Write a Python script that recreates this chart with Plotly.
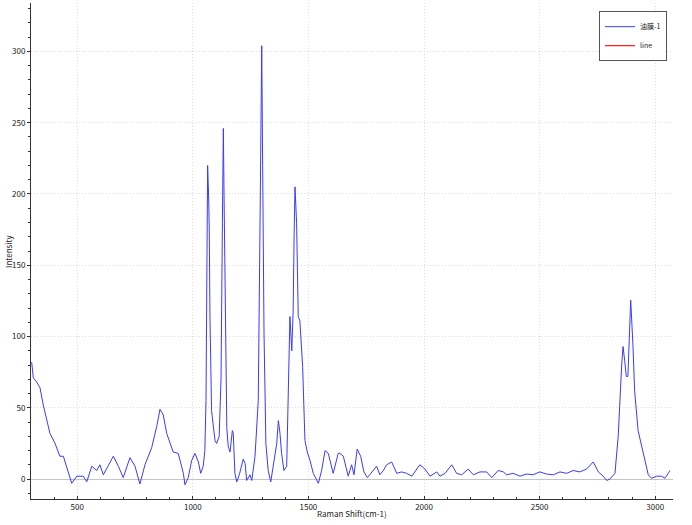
import plotly.graph_objects as go

# Raman shift (cm-1) and intensity
shift = [303, 310, 325, 339, 353, 368, 382, 404, 425, 440, 454, 476, 498, 526, 541, 563, 584, 598,
         613, 634, 656, 678, 699, 728, 750, 771, 793, 822, 844, 858, 872, 887, 915, 937, 944, 959,
         966, 980, 995, 1009, 1024, 1034, 1045, 1052, 1057, 1061, 1064, 1068, 1071, 1074, 1081,
         1096, 1103, 1114, 1122, 1128, 1132, 1135, 1139, 1143, 1147, 1153, 1161, 1171, 1175, 1182,
         1190, 1201, 1218, 1226, 1233, 1247, 1255, 1269, 1283, 1292, 1298, 1302, 1305, 1308, 1316,
         1326, 1337, 1348, 1363, 1370, 1377, 1384, 1394, 1406, 1414, 1420, 1428, 1434, 1438, 1442,
         1449, 1452, 1456, 1463, 1475, 1485, 1495, 1507, 1521, 1543, 1557, 1572, 1586, 1607, 1629,
         1636, 1651, 1672, 1687, 1697, 1711, 1726, 1740, 1755, 1774, 1795, 1809, 1824, 1838, 1860,
         1882, 1903, 1925, 1947, 1982, 2004, 2026, 2055, 2069, 2091, 2120, 2141, 2163, 2191, 2213,
         2242, 2271, 2293, 2321, 2343, 2357, 2386, 2415, 2444, 2472, 2501, 2530, 2559, 2588, 2617,
         2645, 2674, 2703, 2732, 2754, 2775, 2790, 2804, 2826, 2840, 2855, 2861, 2868, 2875, 2882,
         2889, 2894, 2904, 2911, 2926, 2941, 2955, 2970, 2984, 3006, 3028, 3042, 3064]

intensity = [82, 71, 68, 64, 52, 41, 32, 25, 16, 16, 9, -3, 2, 2, -2, 9, 6, 10,
             3, 9, 16, 9, 1, 15, 9, -3.5, 10, 22, 37, 49, 45, 32, 19, 18, 13, 4,
             -4, 1, 13, 18, 12, 4, 9, 20, 55, 150, 220, 200, 176, 115, 48,
             27, 25, 30, 70, 180, 246, 200, 140, 60, 36, 23, 19, 34, 32, 4,
             -2, 3, 14, 11, -1, 3, -1, 16, 55, 200, 304, 220, 123, 102, 25,
             6, -2, 9, 25, 41, 32, 18, 6, 9, 60, 114, 90, 118, 170, 205,
             179, 128, 114, 111, 79, 27, 19, 13, 4, -3, 6, 20, 18, 4, 18,
             18, 16, 2, 10, 3, 21, 16, 5, 1, 5, 9, 3, 6, 10, 12,
             4, 5, 4, 2, 10, 7, 2, 5, 2, 4, 10, 4, 3, 7, 3,
             5, 5, 1, 6, 5, 3, 4, 2, 3.5, 3, 5, 3.5, 3, 5, 4,
             6, 5, 7, 12, 5, 2, -1, 0, 4, 30, 80, 93, 83, 72, 72,
             100, 125.5, 93, 62, 34, 23, 12, 3, 0.5, 2, 2, 0.5, 6]

series_names = ["油膜-1", "line"]
x_ticks = [500, 1000, 1500, 2000, 2500, 3000]
y_ticks = [0, 50, 100, 150, 200, 250, 300]
x_title = "Raman Shift(cm-1)"
y_title = "Intensity"

FONT = "Noto Sans CJK SC"

fig = go.Figure()
fig.add_trace(go.Scatter(x=shift, y=intensity, mode="lines", name=series_names[0],
                         line=dict(color="#3a3aff", width=1)))
fig.add_trace(go.Scatter(x=[None], y=[None], mode="lines", name=series_names[1],
                         line=dict(color="#ff2020", width=1.2)))

fig.update_layout(
    width=692, height=525,
    margin=dict(l=31, r=19, t=3, b=26, autoexpand=False),
    paper_bgcolor="white", plot_bgcolor="white",
    font=dict(family=FONT, size=8, color="#222"),
    showlegend=True,
    legend=dict(x=0.9907, y=0.9835, xanchor="right", yanchor="top",
                bgcolor="white", bordercolor="#555", borderwidth=1,
                font=dict(family=FONT, size=7, color="#222"),
                itemwidth=30, tracegroupgap=0),
    annotations=[
        dict(text=x_title, xref="paper", yref="paper", x=0.5, y=-0.030,
             xanchor="center", yanchor="middle", showarrow=False,
             font=dict(family=FONT, size=8, color="#222")),
        dict(text=y_title, xref="paper", yref="paper", x=-0.036, y=0.5,
             xanchor="center", yanchor="middle", textangle=-90, showarrow=False,
             font=dict(family=FONT, size=8, color="#222")),
    ],
)

fig.update_xaxes(
    range=[300, 3077], tickvals=x_ticks, ticktext=[str(v) for v in x_ticks],
    automargin=False,
    showline=True, linecolor="#333", linewidth=1,
    ticks="inside", ticklen=3, tickcolor="#333",
    showgrid=True, gridcolor="#dcdcdc", griddash="1px,2px", gridwidth=1,
    zeroline=False,
    minor=dict(dtick=100, tick0=0, ticks="inside", ticklen=2, tickcolor="#333", showgrid=False),
    tickfont=dict(size=8),
)
fig.update_yaxes(
    range=[-14, 334], tickvals=y_ticks, ticktext=[str(v) for v in y_ticks],
    automargin=False,
    showline=True, linecolor="#333", linewidth=1,
    ticks="outside", ticklen=3, tickcolor="#333",
    showgrid=True, gridcolor="#dcdcdc", griddash="1px,2px", gridwidth=1,
    zeroline=True, zerolinecolor="#c4c4c4", zerolinewidth=1,
    minor=dict(dtick=10, tick0=0, ticks="outside", ticklen=2, tickcolor="#333", showgrid=False),
    tickfont=dict(size=8),
)

fig.write_html("out.html", config={"displayModeBar": False},
               post_script="document.body.style.margin='0';document.body.style.overflow='hidden';")
